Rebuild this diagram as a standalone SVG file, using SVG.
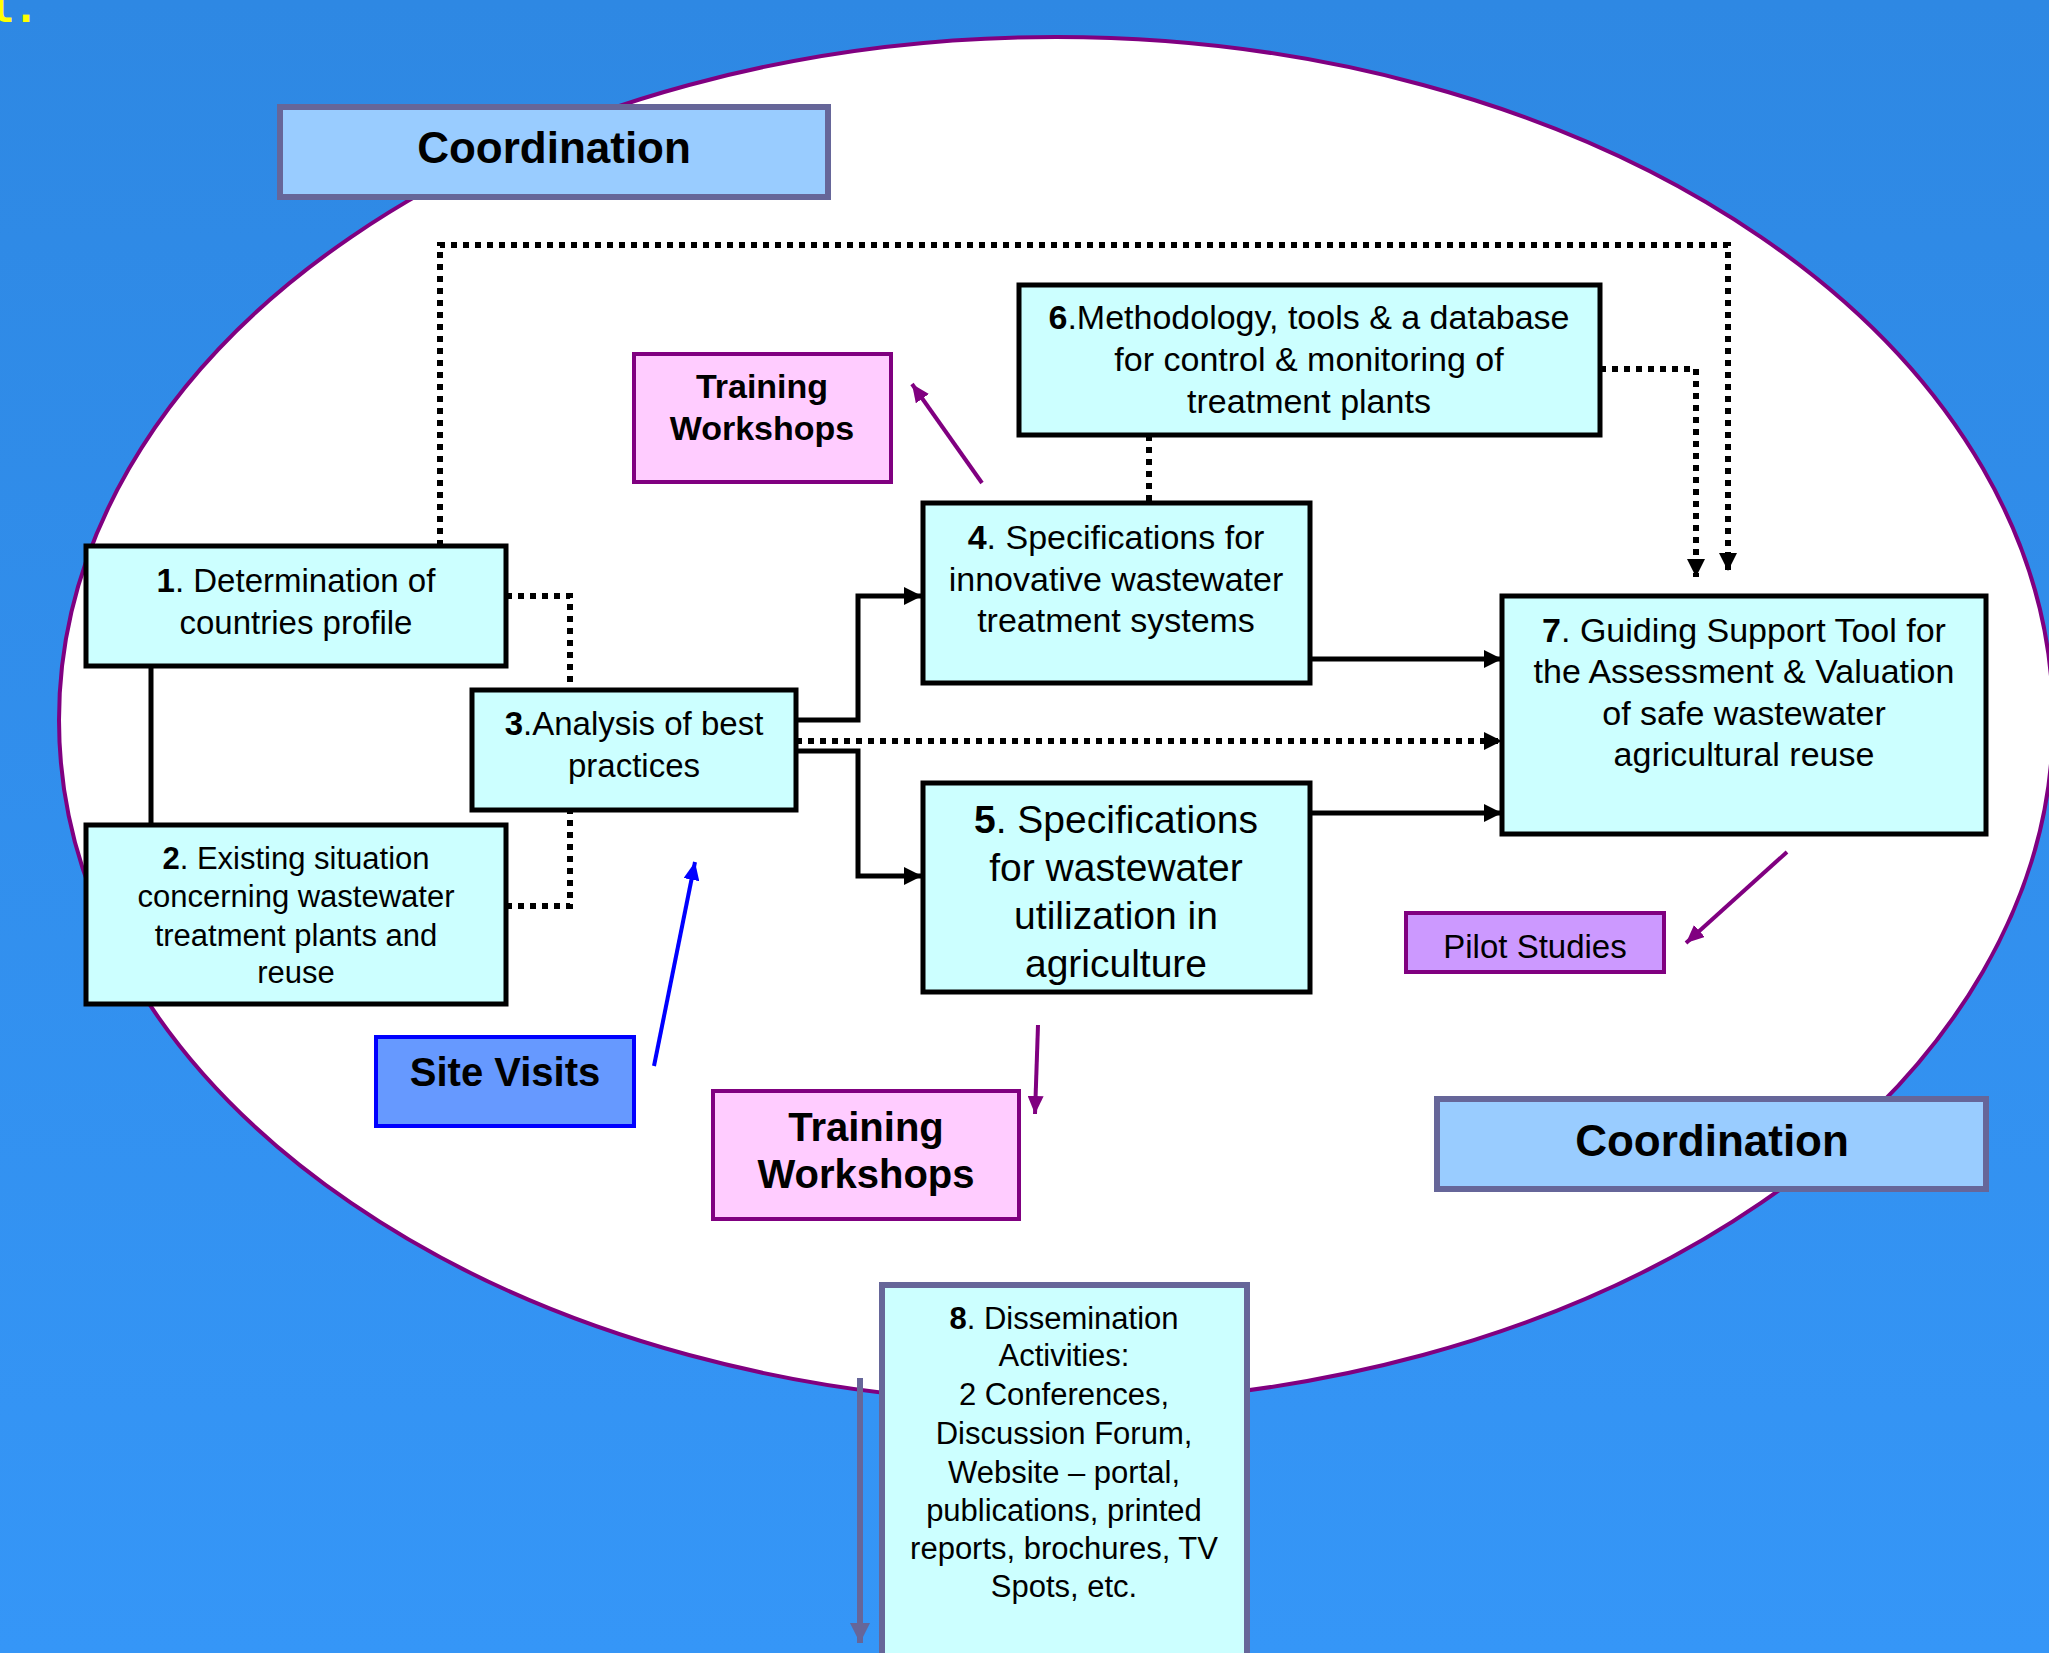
<svg xmlns="http://www.w3.org/2000/svg" width="2049" height="1653" viewBox="0 0 2049 1653">
<defs>
<linearGradient id="bg" x1="0" y1="0" x2="0" y2="1">
<stop offset="0" stop-color="#2E88E3"/>
<stop offset="1" stop-color="#3596F7"/>
</linearGradient>
<marker id="ab" markerUnits="userSpaceOnUse" markerWidth="18" markerHeight="18" refX="18" refY="9" orient="auto"><path d="M0,0 L18,9 L0,18 z" fill="#000"/></marker>
<marker id="ap" markerUnits="userSpaceOnUse" markerWidth="18" markerHeight="16" refX="18" refY="8" orient="auto"><path d="M0,0 L18,8 L0,16 z" fill="#800080"/></marker>
<marker id="abl" markerUnits="userSpaceOnUse" markerWidth="18" markerHeight="16" refX="18" refY="8" orient="auto"><path d="M0,0 L18,8 L0,16 z" fill="#0000FF"/></marker>
<marker id="ag" markerUnits="userSpaceOnUse" markerWidth="20" markerHeight="20" refX="20" refY="10" orient="auto"><path d="M0,0 L20,10 L0,20 z" fill="#666699"/></marker>
<style>
text{font-family:"Liberation Sans",Arial,sans-serif;fill:#000;text-anchor:middle}
.b{font-weight:bold}
.task{fill:#CCFFFF;stroke:#000;stroke-width:5}
.coord{fill:#99CCFF;stroke:#666699;stroke-width:6}
.train{fill:#FFCCFF;stroke:#800080;stroke-width:4}
.solid{fill:none;stroke:#000;stroke-width:5}
.dot{fill:none;stroke:#000;stroke-width:6;stroke-dasharray:6 6}
</style>
</defs>
<rect x="0" y="0" width="2049" height="1653" fill="url(#bg)"/>
<text x="-10" y="22" style="font-family:'DejaVu Sans Mono',monospace;font-weight:bold;font-size:40px;fill:#FFFF00;text-anchor:start">l.</text>
<ellipse cx="1056" cy="720" rx="997" ry="683" fill="#FFFFFF" stroke="#800080" stroke-width="4"/>

<g id="connectors">
<path class="dot" d="M440,546 V245 H1728 V571" marker-end="url(#ab)"/>
<path class="dot" d="M1600,369 H1696 V577" marker-end="url(#ab)"/>
<path class="dot" d="M1149,435 V502"/>
<path class="dot" d="M506,596 H570 V689"/>
<path class="dot" d="M506,906 H570 V810"/>
<path class="solid" d="M151,666 V825"/>
<path class="solid" d="M796,720 H858 V596 H922" marker-end="url(#ab)"/>
<path class="solid" d="M796,751 H858 V876 H922" marker-end="url(#ab)"/>
<path class="dot" d="M796,741 H1502" marker-end="url(#ab)"/>
<path class="solid" d="M1310,659 H1502" marker-end="url(#ab)"/>
<path class="solid" d="M1310,813 H1502" marker-end="url(#ab)"/>
<path d="M982,483 L912,384" stroke="#800080" stroke-width="4" fill="none" marker-end="url(#ap)"/>
<path d="M1038,1025 L1035,1114" stroke="#800080" stroke-width="4" fill="none" marker-end="url(#ap)"/>
<path d="M1787,852 L1686,943" stroke="#800080" stroke-width="4" fill="none" marker-end="url(#ap)"/>
<path d="M654,1066 L695,862" stroke="#0000FF" stroke-width="4" fill="none" marker-end="url(#abl)"/>
<path d="M860,1378 V1643" stroke="#666699" stroke-width="6" fill="none" marker-end="url(#ag)"/>
</g>

<g id="coord-top">
<rect class="coord" x="280" y="107" width="548" height="90"/>
<text class="b" x="554" y="163" font-size="44">Coordination</text>
</g>
<g id="coord-bottom">
<rect class="coord" x="1437" y="1099" width="549" height="90"/>
<text class="b" x="1712" y="1156" font-size="44">Coordination</text>
</g>
<g id="training-top">
<rect class="train" x="634" y="354" width="257" height="128"/>
<text class="b" x="762" y="398" font-size="34">Training</text>
<text class="b" x="762" y="440" font-size="34">Workshops</text>
</g>
<g id="training-bottom">
<rect class="train" x="713" y="1091" width="306" height="128"/>
<text class="b" x="866" y="1141" font-size="40">Training</text>
<text class="b" x="866" y="1188" font-size="40">Workshops</text>
</g>
<g id="site-visits">
<rect x="376" y="1037" width="258" height="89" fill="#6699FF" stroke="#0000FF" stroke-width="4"/>
<text class="b" x="505" y="1086" font-size="40">Site Visits</text>
</g>
<g id="pilot-studies">
<rect x="1406" y="913" width="258" height="59" fill="#CC99FF" stroke="#800080" stroke-width="4"/>
<text x="1535" y="958" font-size="33">Pilot Studies</text>
</g>
<g id="node1">
<rect class="task" x="86" y="546" width="420" height="120"/>
<text x="296" y="592" font-size="33"><tspan class="b">1</tspan>. Determination of</text>
<text x="296" y="634" font-size="33">countries profile</text>
</g>
<g id="node2">
<rect class="task" x="86" y="825" width="420" height="179"/>
<text x="296" y="869" font-size="31"><tspan class="b">2</tspan>. Existing situation</text>
<text x="296" y="907" font-size="31">concerning wastewater</text>
<text x="296" y="946" font-size="31">treatment plants and</text>
<text x="296" y="983" font-size="31">reuse</text>
</g>
<g id="node3">
<rect class="task" x="472" y="690" width="324" height="120"/>
<text x="634" y="735" font-size="33"><tspan class="b">3</tspan>.Analysis of best</text>
<text x="634" y="777" font-size="33">practices</text>
</g>
<g id="node4">
<rect class="task" x="923" y="503" width="387" height="180"/>
<text x="1116" y="549" font-size="34"><tspan class="b">4</tspan>. Specifications for</text>
<text x="1116" y="591" font-size="34">innovative wastewater</text>
<text x="1116" y="632" font-size="34">treatment systems</text>
</g>
<g id="node5">
<rect class="task" x="923" y="783" width="387" height="209"/>
<text x="1116" y="833" font-size="39"><tspan class="b">5</tspan>. Specifications</text>
<text x="1116" y="881" font-size="39">for wastewater</text>
<text x="1116" y="929" font-size="39">utilization in</text>
<text x="1116" y="977" font-size="39">agriculture</text>
</g>
<g id="node6">
<rect class="task" x="1019" y="285" width="581" height="150"/>
<text x="1309" y="329" font-size="34"><tspan class="b">6</tspan>.Methodology, tools &amp; a database</text>
<text x="1309" y="371" font-size="34">for control &amp; monitoring of</text>
<text x="1309" y="413" font-size="34">treatment plants</text>
</g>
<g id="node7">
<rect class="task" x="1502" y="596" width="484" height="238"/>
<text x="1744" y="642" font-size="34"><tspan class="b">7</tspan>. Guiding Support Tool for</text>
<text x="1744" y="683" font-size="34">the Assessment &amp; Valuation</text>
<text x="1744" y="725" font-size="34">of safe wastewater</text>
<text x="1744" y="766" font-size="34">agricultural reuse</text>
</g>
<g id="node8">
<rect x="882" y="1285" width="365" height="400" fill="#CCFFFF" stroke="#666699" stroke-width="6"/>
<text x="1064" y="1329" font-size="31"><tspan class="b">8</tspan>. Dissemination</text>
<text x="1064" y="1366" font-size="31">Activities:</text>
<text x="1064" y="1405" font-size="31">2 Conferences,</text>
<text x="1064" y="1444" font-size="31">Discussion Forum,</text>
<text x="1064" y="1483" font-size="31">Website – portal,</text>
<text x="1064" y="1521" font-size="31">publications, printed</text>
<text x="1064" y="1559" font-size="31">reports, brochures, TV</text>
<text x="1064" y="1597" font-size="31">Spots, etc.</text>
</g>
</svg>
